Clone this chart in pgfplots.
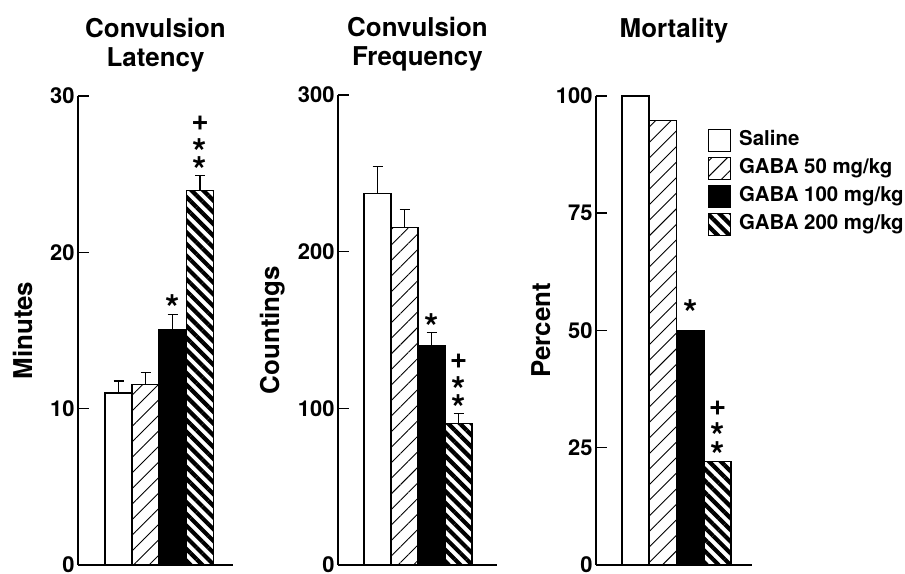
\documentclass[border=0pt]{standalone}
\usepackage{fontspec}
\setmainfont{TeX Gyre Heros}
\usepackage{pgfplots}
\pgfplotsset{compat=1.18}
\usetikzlibrary{patterns.meta}

\pgfplotsset{
  panel/.style={
    scale only axis, anchor=south west,
    axis x line=bottom, axis y line=left,
    axis line style={line width=1.5bp,-},
    xmin=0, ymin=0, xtick=\empty,
    tick align=inside, major tick length=11bp,
    every tick/.style={line width=1.5bp,black},
    /pgf/number format/assume math mode=true,
    tick label style={font=\fontsize{22}{26}\selectfont\bfseries},
    title style={font=\fontsize{26}{29}\selectfont\bfseries, align=center,
      at={(axis description cs:0.5,1)}, anchor=north, inner sep=0pt, yshift=72bp},
    ylabel style={font=\fontsize{26}{29}\selectfont\bfseries, anchor=center},
    clip=false,
  },
  mylegend/.style={legend image code/.code={\draw[##1,line width=1bp] (0bp,-11bp) rectangle (22bp,11bp);}},
  barbase/.style={ybar, bar width=27bp, bar shift=0pt, draw=black, line width=1.2bp},
  errb/.style={
    error bars/y dir=plus, error bars/y explicit,
    error bars/error bar style={line width=1.2bp,black},
    error bars/error mark options={rotate=90, line width=1.2bp, mark size=5bp, black}},
  sal/.style={barbase, fill=white},
  g50/.style={barbase, pattern={Lines[angle=45,distance=11bp,line width=0.9bp]}},
  g100/.style={barbase, fill=black},
  g200/.style={barbase, pattern={Lines[angle=-45,distance=8.3bp,line width=4.2bp]}},
}
\newcommand{\sigstar}[2]{\node[font=\fontsize{37}{37}\selectfont\bfseries, anchor=base, yshift=-21.5bp, inner sep=0pt] at (axis cs:#1,#2) {*};}
\newcommand{\sigplus}[2]{\node[font=\fontsize{30}{30}\selectfont\bfseries, anchor=base, yshift=-7.5bp, inner sep=0pt] at (axis cs:#1,#2) {+};}

\begin{document}
\begin{tikzpicture}
\useasboundingbox (0,0) rectangle (905bp,574bp);

% Panel 1
\begin{axis}[panel, at={(78bp,9bp)}, width=155bp, height=469bp,
  xmax=155, ymax=30, ytick={0,10,20,30},
  title={Convulsion\\Latency}, ylabel={Minutes},
  ylabel style={at={(axis description cs:-0.355,0.5)}}]
\addplot[sal, errb] coordinates {(40.5,11.0) +- (0,0.77)};
\addplot[g50, errb] coordinates {(67.5,11.56) +- (0,0.77)};
\addplot[g100, errb] coordinates {(94.5,15.08) +- (0,0.96)};
\addplot[g200, errb] coordinates {(122,23.93) +- (0,0.97)};
\sigstar{94.6}{16.95}
\sigplus{122}{28.27}
\sigstar{122}{26.93}
\sigstar{122}{25.78}
\end{axis}

% Panel 2
\begin{axis}[panel, at={(338bp,9bp)}, width=159bp, height=470bp,
  xmax=159, ymax=300, ytick={0,100,200,300},
  title={Convulsion\\Frequency}, ylabel={Countings},
  ylabel style={at={(axis description cs:-0.409,0.5)}}]
\addplot[sal, errb] coordinates {(39.5,237.2) +- (0,17)};
\addplot[g50, errb] coordinates {(66.5,215.5) +- (0,11.5)};
\addplot[g100, errb] coordinates {(93.5,140) +- (0,8.3)};
\addplot[g200, errb] coordinates {(120.5,90.4) +- (0,6.4)};
\sigstar{93.5}{157.0}
\sigplus{120.5}{130.2}
\sigstar{120.5}{117.0}
\sigstar{120.5}{105.3}
\end{axis}

% Panel 3
\begin{axis}[panel, at={(596bp,9bp)}, width=156bp, height=469bp,
  xmax=156, ymax=100, ytick={0,25,50,75,100},
  title={Mortality}, ylabel={Percent},
  ylabel style={at={(axis description cs:-0.353,0.5)}},
  legend style={at={(axis description cs:0.718,0.93)}, anchor=north west,
    draw=none, fill=none, inner sep=0pt, row sep=5bp,
    font=\fontsize{20.5}{24}\selectfont\bfseries,
    nodes={inner sep=0pt, text height=15bp, text depth=5bp},
    /tikz/every even column/.append style={column sep=0bp}},
  legend cell align=left]
\addplot[sal, mylegend] coordinates {(39.5,100)};
\addplot[g50, mylegend] coordinates {(67,94.7)};
\addplot[g100, mylegend] coordinates {(94.5,50)};
\addplot[g200, mylegend] coordinates {(121.5,22)};
\legend{\hspace{8bp}Saline,\hspace{8bp}GABA 50 mg/kg,\hspace{8bp}GABA 100 mg/kg,\hspace{8bp}GABA 200 mg/kg}
\sigstar{94.5}{55.4}
\sigplus{121.5}{33.5}
\sigstar{121.5}{29.3}
\sigstar{121.5}{25.2}
\end{axis}
\end{tikzpicture}
\end{document}
